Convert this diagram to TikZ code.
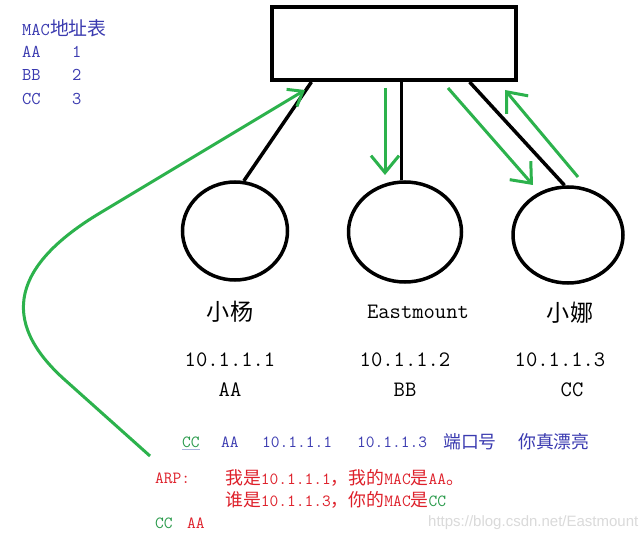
\documentclass[tikz,border=0pt]{standalone}
\usepackage{fontspec}
\newfontfamily\cjk[Scale=1.05]{Noto Sans CJK SC}
\newfontfamily\wmfont{Liberation Sans}
\usepackage{tikz}
\usetikzlibrary{shapes.geometric,arrows.meta}
\definecolor{macblue}{RGB}{58,58,176}
\definecolor{arpred}{RGB}{222,32,42}
\definecolor{arrowgreen}{RGB}{44,178,76}
\definecolor{txtgreen}{RGB}{40,154,74}
\definecolor{underblue}{RGB}{170,180,220}
\definecolor{markgray}{RGB}{218,218,218}

\begin{document}
\begin{tikzpicture}[x=1pt, y=-1pt,
    host/.style={ellipse, draw, line width=3.5pt, inner sep=0pt},
    wire/.style={line width=3.5pt},
    flow/.style={draw=arrowgreen, line width=3pt, -{Straight Barb[length=17pt, width=28pt, line width=3pt]}},
    lbl/.style={inner sep=0pt, font=\ttfamily\fontsize{22}{26}\selectfont},
    table/.style={inner sep=0pt, anchor=west, macblue, font=\ttfamily\fontsize{18}{21}\selectfont},
    note/.style={inner sep=0pt, anchor=west, font=\ttfamily\fontsize{17}{20}\selectfont}]
          \useasboundingbox [fill=white] (0,0) rectangle (640,540);
          % switch and hosts
          \node [draw, line width=4pt, minimum width=244pt, minimum height=73pt] (switch) at (394,43.5) {};
          \node [host, minimum width=105pt, minimum height=98pt] (yang) at (235,231) {};
          \node [host, minimum width=113pt, minimum height=100pt] (east) at (405,232) {};
          \node [host, minimum width=110pt, minimum height=96pt] (na) at (568,235) {};
          \draw [wire] (switch.205) -- (yang.80);
          \draw [wire] (switch.281) -- (switch.281 |- east.north);
          \draw [wire] (switch.333) -- (na.94);
          % host labels
          \node [lbl] (yangname) at (230,312) {\cjk 小杨};
          \node [lbl] (eastname) at (418,312) {Eastmount};
          \node [lbl] (naname) at (570,313) {\cjk 小娜};
          \node [lbl] (yangip) at (230,360) {10.1.1.1};
          \node [lbl] (eastip) at (405,360) {10.1.1.2};
          \node [lbl] (naip) at (560,360) {10.1.1.3};
          \node [lbl] (yangmac) at (230,390) {AA};
          \node [lbl] (eastmac) at (405,390) {BB};
          \node [lbl] (namac) at (572,390) {CC};
          % MAC table
          \node [table] (mactitle) at (22,28) {MAC{\cjk 地址表}};
          \node [table] (rowa) at (22,52) {AA};
          \node [table] (porta) at (72,52) {1};
          \node [table] (rowb) at (22,75) {BB};
          \node [table] (portb) at (72,75) {2};
          \node [table] (rowc) at (22,99) {CC};
          \node [table] (portc) at (72,99) {3};
          % frame
          \node [note, txtgreen] (framecc) at (182,442) {CC};
          \draw [underblue, line width=1pt] ([yshift=-2pt]framecc.south west) -- ([yshift=-2pt]framecc.south east);
          \node [note, macblue] (frameaa) at (221,442) {AA};
          \node [note, macblue] (framesrc) at (262,442) {10.1.1.1};
          \node [note, macblue] (framedst) at (357,442) {10.1.1.3};
          \node [note, macblue] (frameport) at (443,442) {\cjk 端口号};
          \node [note, macblue] (framedata) at (518,442) {\cjk 你真漂亮};
          % ARP
          \node [note, arpred] (arplabel) at (155,478) {ARP:};
          \node [note, arpred] (arpask1) at (225,478) {{\cjk 我是}10.1.1.1{\cjk ，我的}MAC{\cjk 是}AA{\cjk 。}};
          \node [note, arpred] (arpask2) at (225,500) {{\cjk 谁是}10.1.1.3{\cjk ，你的}MAC{\cjk 是}\textcolor{txtgreen}{CC}};
          \node [note, txtgreen] (replycc) at (155,523) {CC};
          \node [note, arpred] (replyaa) at (187,523) {AA};
          \node [note, markgray, font=\wmfont\fontsize{15}{17}\selectfont] (watermark) at (428,523) {https://blog.csdn.net/Eastmount};
          % green arrows
          \coordinate (dn1) at (385,88);
          \coordinate (dn2) at (385,175);
          \coordinate (out1) at (448,88);
          \coordinate (out2) at (533,185);
          \coordinate (back1) at (578,177);
          \coordinate (back2) at (505,90);
          \coordinate (arpstart) at (150,456);
          \coordinate (lowbend) at (65,380);
          \coordinate (upbend) at (100,213);
          \coordinate (switchin) at (305,90);
          \draw [flow] (dn1) -- (dn2);
          \draw [flow] (out1) -- (out2);
          \draw [flow] (back1) -- (back2);
          \draw [flow, -{Straight Barb[length=13pt, width=20pt, line width=3pt]}] (arpstart) -- (lowbend)
              .. controls (-2.5,319.7) and (14.3,264.4) .. (upbend) -- (switchin);
        \end{tikzpicture}
\end{document}
